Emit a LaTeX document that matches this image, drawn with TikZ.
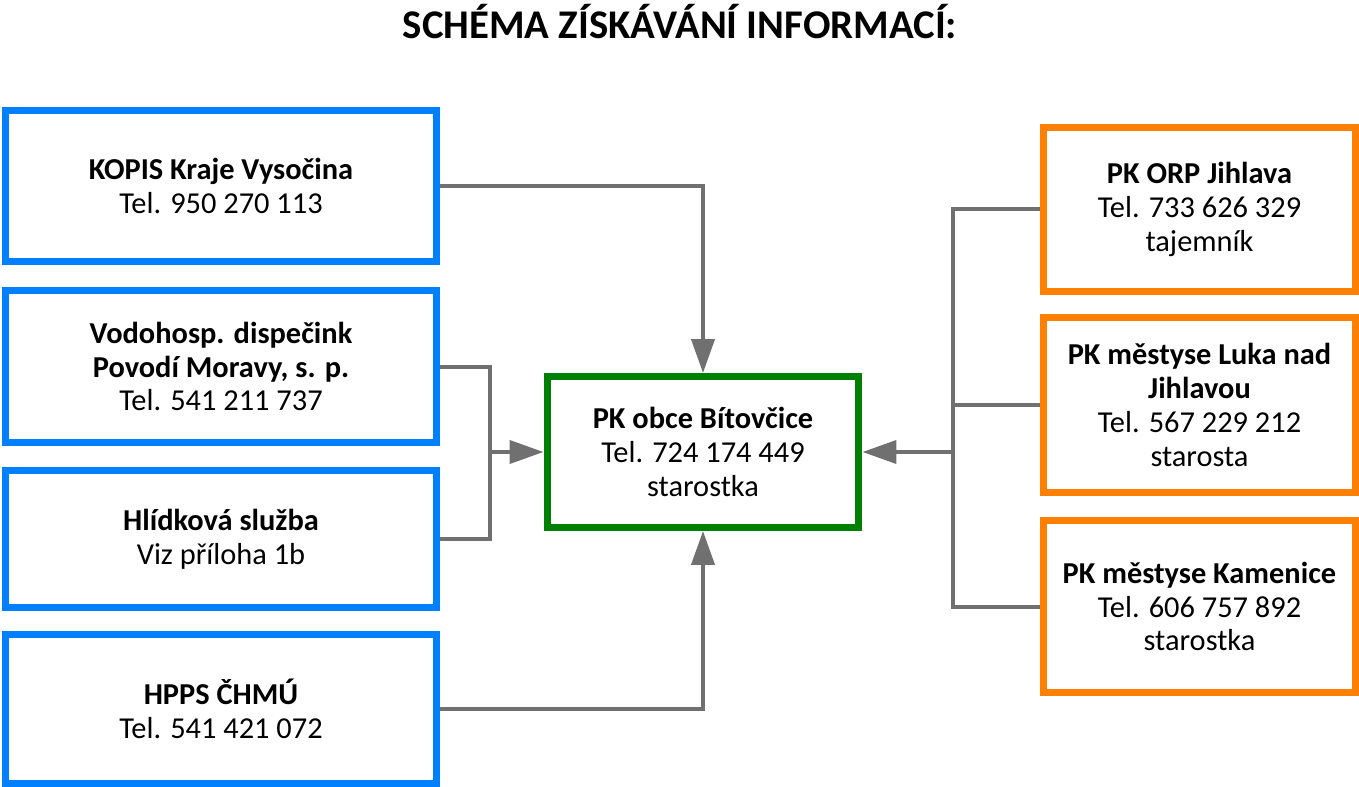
\documentclass[tikz,border=0pt]{standalone}
\usepackage{fontspec}
\setmainfont{Carlito}
\usepackage{xcolor}
\usetikzlibrary{arrows.meta}
\usetikzlibrary{positioning}
\definecolor{modra}{RGB}{0,128,255}
\definecolor{zelena}{RGB}{0,128,0}
\definecolor{oranz}{RGB}{255,128,0}
\definecolor{seda}{RGB}{112,112,112}

\begin{document}
\begin{tikzpicture}[x=0.02cm, y=-0.02cm,
  box/.style={draw, line width=0.14cm, fill=white, align=center,
    font=\fontsize{17.3}{19.3}\selectfont, inner sep=0pt},
  zdroj/.style={box, draw=modra, minimum width=8.62cm},
  obec/.style={box, draw=oranz, minimum width=6.24cm},
  cil/.style={box, draw=zelena, minimum width=6.24cm, minimum height=3.02cm},
  conn/.style={draw=seda, line width=0.08cm},
  sipka/.style={conn, -{Triangle[length=0.68cm, width=0.46cm]}}]
  \useasboundingbox (0,0) rectangle (1359,787);

  \node[font=\fontsize{23.2}{27}\selectfont\bfseries] (nadpis) at (680,22) {SCHÉMA ZÍSKÁVÁNÍ INFORMACÍ:};

  % zdroje vlevo
  \node[zdroj, minimum height=3.02cm] (kopis) at (221,186) {\textbf{KOPIS Kraje Vysočina}\\Tel. 950 270 113};
  \node[zdroj, minimum height=3.04cm] (vodo) at (221,366.5) {\textbf{Vodohosp. dispečink}\\\textbf{Povodí Moravy, s. p.}\\Tel. 541 211 737};
  \node[zdroj, minimum height=2.74cm] (hlid) at (221,539) {\textbf{Hlídková služba}\\Viz příloha 1b};
  \node[zdroj, minimum height=3.0cm] (hpps) at (221,709) {\textbf{HPPS ČHMÚ}\\Tel. 541 421 072};

  % obec
  \node[cil] (pk) at (703,452) {\textbf{PK obce Bítovčice}\\Tel. 724 174 449\\starostka};

  % obce vpravo
  \node[obec, minimum height=3.28cm] (orp) at (1199.5,209.5) {\textbf{PK ORP Jihlava}\\Tel. 733 626 329\\tajemník};
  \node[obec, minimum height=3.5cm] (luka) at (1199.5,405) {\textbf{PK městyse Luka nad}\\\textbf{Jihlavou}\\Tel. 567 229 212\\starosta};
  \node[obec, minimum height=3.44cm] (kam) at (1199.5,606.5) {\textbf{PK městyse Kamenice}\\Tel. 606 757 892\\starostka};

  % spojnice
  \coordinate (levy) at (490,452);
  \coordinate (pravy) at (953,452);
  \draw[sipka] (kopis.east) -| (pk.north);
  \draw[sipka] (hpps.east) -| (pk.south);
  \draw[conn] (vodo.east) -| (levy) |- (hlid.east);
  \draw[sipka] (levy) -- (pk.west);
  \draw[conn] (orp.west) -| (pravy) |- (kam.west);
  \draw[conn] (luka.west) -- (luka.west -| pravy);
  \draw[sipka] (pravy) -- (pk.east);
\end{tikzpicture}
\end{document}
